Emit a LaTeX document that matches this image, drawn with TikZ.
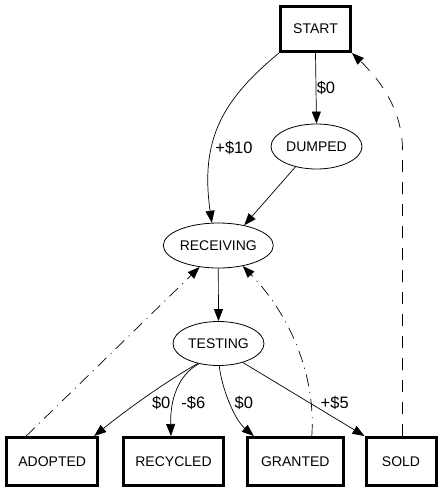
\documentclass[tikz,border=0pt]{standalone}
\usepackage{fontspec}
\setmainfont{Liberation Sans}
\usetikzlibrary{arrows.meta,shapes.geometric}
\begin{document}
\begin{tikzpicture}[x=1pt,y=-1pt,
  box/.style={draw,line width=3pt,rectangle,inner sep=0pt,font=\fontsize{14}{16}\selectfont,minimum height=48pt},
  oval/.style={draw,line width=0.8pt,ellipse,inner sep=0pt,font=\fontsize{14}{16}\selectfont},
  lbl/.style={inner sep=0pt,font=\fontsize{16.5}{18}\selectfont},
  edge/.style={line width=0.7pt,-{Triangle[length=12pt,width=9pt]}},
  dashdot/.style={edge,dash pattern=on 12pt off 6pt on 1pt off 6pt},
  dashline/.style={edge,dash pattern=on 12pt off 10pt}]
\fill[white] (0,0) rectangle (443,491);
\useasboundingbox (0,0) rectangle (443,491);
% nodes
\node[box,minimum width=70pt,minimum height=45pt] (START) at (315.5,29) {START};
\node[oval,minimum width=91pt,minimum height=45pt] (DUMPED) at (316.5,146.5) {DUMPED};
\node[oval,minimum width=110pt,minimum height=45pt] (RECEIVING) at (218.3,245.5) {RECEIVING};
\node[oval,minimum width=91pt,minimum height=44pt] (TESTING) at (218.5,343.5) {TESTING};
\node[box,minimum width=91pt] (ADOPTED) at (52.2,461.5) {ADOPTED};
\node[box,minimum width=100.5pt] (RECYCLED) at (173.5,461.5) {RECYCLED};
\node[box,minimum width=96pt] (GRANTED) at (295.3,461.5) {GRANTED};
\node[box,minimum width=70pt] (SOLD) at (401,461.5) {SOLD};
% labels
\node[lbl] (l1) at (326,88) {\$0};
\node[lbl] (l2) at (234,148) {+\$10};
\node[lbl] (l3) at (161.2,403) {\$0};
\node[lbl] (l4) at (193.3,403) {-\$6};
\node[lbl] (l5) at (243.8,403) {\$0};
\node[lbl] (l6) at (334.7,403) {+\$5};
% edges
\draw[edge] (START.south) -- (DUMPED.north);
\draw[edge] (START.south west) .. controls (222,100) and (200,140) .. (RECEIVING.106);
\draw[edge] (DUMPED.224) -- (RECEIVING.38);
\draw[edge] (RECEIVING.south) -- (TESTING.north);
\draw[edge] (TESTING.224) .. controls (160,385) and (120,415) .. ([xshift=-5pt]ADOPTED.north east);
\draw[edge] (TESTING.226) .. controls (178,375) and (170,400) .. ([xshift=-2.5pt]RECYCLED.north);
\draw[edge] (TESTING.272) .. controls (222,390) and (235,420) .. ([xshift=8pt]GRANTED.north west);
\draw[edge] (TESTING.-38) -- (SOLD.north west);
\draw[dashdot] ([xshift=21pt]ADOPTED.north west) -- (RECEIVING.229);
\draw[dashdot] ([xshift=16.5pt]GRANTED.north) .. controls (316,375) and (290,315) .. (RECEIVING.-40);
\coordinate (bend) at (402.5,150);
\draw[dashline] ([xshift=1.5pt]SOLD.north) -- (bend) .. controls (402.5,110) and (380,80) .. (START.south east);
\end{tikzpicture}
\end{document}
